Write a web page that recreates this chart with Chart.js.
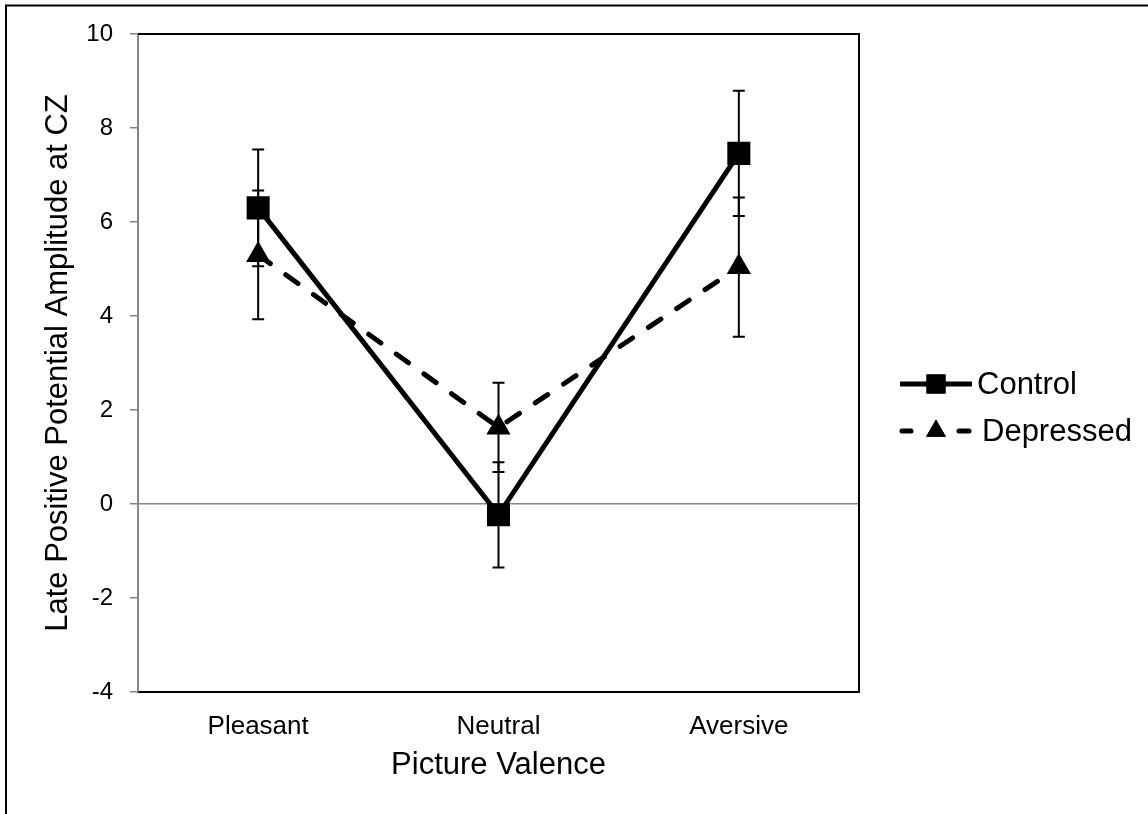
<!DOCTYPE html>
<html>
<head>
<meta charset="utf-8">
<script src="https://cdn.jsdelivr.net/npm/chart.js@4"></script>
<style>
  html, body { margin: 0; padding: 0; background: #fff; }
  #wrap { width: 1148px; height: 814px; }
</style>
</head>
<body>
<div id="wrap"><canvas id="chart-canvas" width="1148" height="814"></canvas></div>
<script>
(function(){

  // data
  const categories = ['Pleasant', 'Neutral', 'Aversive'];
  const seriesNames = ['Control', 'Depressed'];
  const controlMeans = [6.3, -0.23, 7.46];
  const controlErrors = [1.24, 1.12, 1.33];
  const depressedMeans = [5.3, 1.63, 5.04];
  const depressedErrors = [1.37, 0.95, 1.48];
  const yMin = -4;
  const yMax = 10;
  const yStep = 2;

  const FONT = "'Liberation Sans', Arial, sans-serif";
  const AXIS_GRAY = '#868686';

  // error bars, drawn under the markers
  const errorBars = {
    id: 'errorBars',
    beforeDatasetsDraw(chart) {
      const { ctx, scales: { y } } = chart;
      ctx.save();
      ctx.strokeStyle = '#000';
      ctx.lineWidth = 2;
      chart.data.datasets.forEach((ds, i) => {
        const meta = chart.getDatasetMeta(i);
        meta.data.forEach((pt, j) => {
          const top = y.getPixelForValue(ds.data[j] + ds.errors[j]);
          const bottom = y.getPixelForValue(ds.data[j] - ds.errors[j]);
          ctx.beginPath();
          ctx.moveTo(pt.x, top); ctx.lineTo(pt.x, bottom);
          ctx.moveTo(pt.x - 6, top); ctx.lineTo(pt.x + 6, top);
          ctx.moveTo(pt.x - 6, bottom); ctx.lineTo(pt.x + 6, bottom);
          ctx.stroke();
        });
      });
      ctx.restore();
    }
  };

  // outer frame, plot frame (top / right) and the legend on the right
  const frameAndLegend = {
    id: 'frameAndLegend',
    beforeDraw(chart) {
      const { ctx } = chart;
      ctx.save();
      ctx.fillStyle = '#fff';
      ctx.fillRect(0, 0, chart.width, chart.height);
      ctx.strokeStyle = '#000';
      ctx.lineWidth = 2;
      ctx.strokeRect(6, 5.5, chart.width + 20, chart.height + 20);
      ctx.restore();
    },
    afterDraw(chart) {
      const { ctx, chartArea: a } = chart;
      ctx.save();
      ctx.strokeStyle = '#000';
      ctx.lineWidth = 2;
      ctx.beginPath();
      ctx.moveTo(a.left, a.top); ctx.lineTo(a.right, a.top); ctx.lineTo(a.right, a.bottom);
      ctx.stroke();

      const rows = [384, 431];
      chart.data.datasets.forEach((ds, i) => {
        const yy = rows[i];
        ctx.save();
        ctx.strokeStyle = '#000';
        ctx.lineWidth = 5;
        ctx.lineCap = ds.borderCapStyle || 'butt';
        ctx.beginPath();
        if (ds.borderDash) {
          ctx.moveTo(902, yy); ctx.lineTo(911, yy);
          ctx.moveTo(959, yy); ctx.lineTo(969, yy);
        } else {
          ctx.moveTo(900, yy); ctx.lineTo(972, yy);
        }
        ctx.stroke();
        Chart.helpers.drawPoint(ctx, {
          pointStyle: ds.pointStyle,
          radius: ds.pointStyle === 'rect' ? 13.5 : 11.5,
          rotation: 0,
          borderWidth: 0
        }, 936, yy);
        ctx.fill();
        ctx.restore();
        ctx.fillStyle = '#000';
        ctx.font = '31px ' + FONT;
        ctx.textBaseline = 'middle';
        ctx.fillText(ds.label, ds.borderDash ? 982 : 977, yy + 1);
      });
      ctx.restore();
    }
  };

  const context = document.querySelector('#chart-canvas').getContext('2d');

  new Chart(context, {
    type: 'line',
    data: {
      labels: categories,
      datasets: [
        {
          label: seriesNames[0],
          data: controlMeans,
          errors: controlErrors,
          borderColor: '#000',
          backgroundColor: '#000',
          borderWidth: 5,
          pointStyle: 'rect',
          pointRadius: 16.3,
          pointHoverRadius: 16.3,
          pointBorderWidth: 0,
          tension: 0
        },
        {
          label: seriesNames[1],
          data: depressedMeans,
          errors: depressedErrors,
          borderColor: '#000',
          backgroundColor: '#000',
          borderWidth: 5,
          borderDash: [15, 19],
          borderCapStyle: 'round',
          pointStyle: 'triangle',
          pointRadius: 14,
          pointHoverRadius: 14,
          pointBorderWidth: 0,
          tension: 0
        }
      ]
    },
    options: {
      responsive: false,
      animation: false,
      events: [],
      layout: { padding: { top: 34, right: 289, bottom: 0, left: 0 } },
      plugins: {
        legend: { display: false },
        tooltip: { enabled: false }
      },
      scales: {
        x: {
          offset: true,
          grid: { display: false, drawTicks: false },
          border: { color: '#000', width: 2 },
          ticks: { color: '#000', padding: 19, font: { family: FONT, size: 26 } },
          title: {
            display: true,
            text: 'Picture Valence',
            color: '#000',
            font: { family: FONT, size: 31 },
            padding: { top: 0, bottom: 30 }
          },
          afterFit(scale) { scale.height = 122; }
        },
        y: {
          min: yMin,
          max: yMax,
          grid: {
            color: (c) => c.tick && c.tick.value === 0 ? AXIS_GRAY : 'rgba(0,0,0,0)',
            lineWidth: 1.5,
            tickColor: AXIS_GRAY,
            tickLength: 8
          },
          border: { color: AXIS_GRAY, width: 2 },
          ticks: { stepSize: yStep, color: '#000', padding: 17, font: { family: FONT, size: 24 } },
          title: {
            display: true,
            text: 'Late Positive Potential Amplitude at CZ',
            color: '#000',
            font: { family: FONT, size: 31 },
            padding: { top: 40, bottom: 0 }
          },
          afterFit(scale) { scale.width = 138; }
        }
      }
    },
    plugins: [errorBars, frameAndLegend]
  });
})();
</script>
</body>
</html>
